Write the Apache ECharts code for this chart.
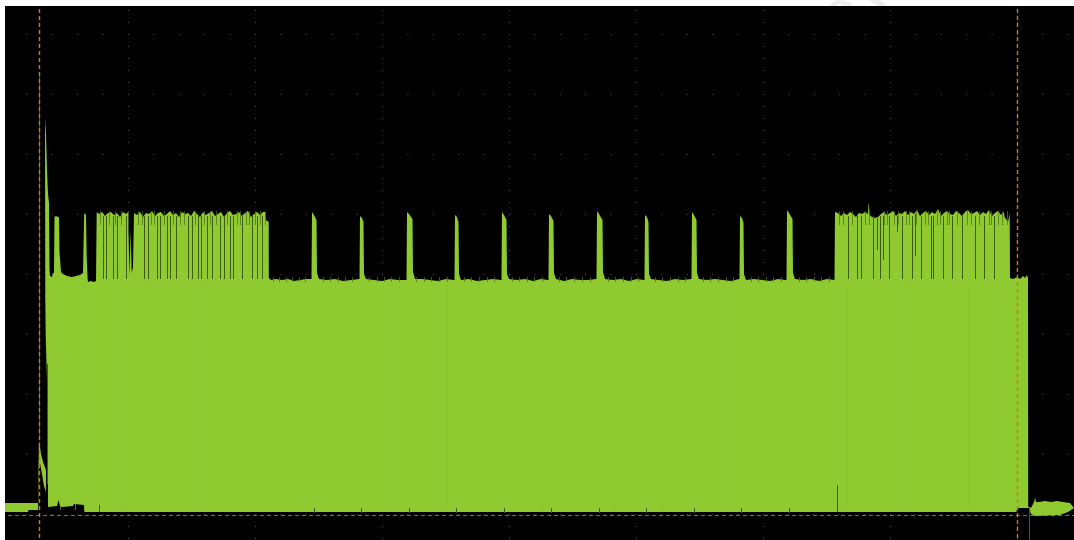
<!DOCTYPE html>
<html>
<head>
<meta charset="utf-8">
<style>html,body{margin:0;padding:0;background:#fff}#chart{width:1074px;height:540px}</style>
<script src="https://cdn.jsdelivr.net/npm/echarts@6/dist/echarts.min.js"></script>
</head>
<body>
<div id="chart"></div>
<script>
// Pre-trigger trace and its decaying tail
const preHighX = [4,15,26,36,37,38,40,42,45];
const preHighY = [11,11,11,11,11,74,60,52,44];
const preLowX = [4,27,27.5,37,38,39,41,43,45];
const preLowY = [2,2,4,4,44,51,40,28,22];

// Upper envelope of the burst trace
const highX = [
  44,45,46,47,48,48.5,49,51,52,53,53.5,55,57,58,58.5,60,62,66,71,75,79,82,83.2,85,85.7,86.7,87,90,93,95,95.7,
  98,101,104,107,110,113,116,119,122,125,127,128.5,129.7,130.7,132,133,
  136,139,142,145,148,151,154,157,160,163,166,169,172,175,178,181,184,187,190,193,196,199,202,205,208,211,214,217,220,223,226,229,232,235,238,241,244,247,250,253,256,259,262,
  264,265,267.7,267.8,270,
  275,281,287,293,299,305,310.5,311,313,315.5,316,318,326,334,342,350,358,
  358.5,359,361,362.5,363,365,373,381,389,397,405,
  405.5,406,408,411.5,412,414,421,429,437,445,453,
  453.5,454,456,457.5,458,460,468,476,484,492,500,
  500.5,501,503,505.5,506,508,516,524,532,540,547,
  547.5,548,550,552.5,553,555,563,571,579,587,595,
  595.5,596,598,601.5,602,604,612,620,628,636,643,
  643.5,644,646,647.5,648,650,658,666,674,682,690,
  690.5,691,693,695.5,696,698,706,714,722,730,738,
  738.5,739,741,742.5,743,745,753,761,769,777,785,
  785.5,786,788,791.5,792,794,802,810,818,826,833.5,
  834,837,840,843,846,849,852,855,858,861,864,867,867.5,868,868.5,871,874,877,
  880,883,886,889,892,895,898,901,904,907,910,913,916,919,922,925,928,931,934,937,940,943,946,949,952,955,958,961,964,967,970,973,976,979,982,985,988,991,994,997,1000,1003,
  1003.5,1005,1007,1008.7,1009,1012,1014,1016,1019,1022,1024,1026,1027,1027.2,
  1028.2,1030,1032,1033.5,1034,1035,1038,1044,1050,1056,1062,1069,1073
];
const highY = [
  396,380,344,320,311,245,238,237,241,241,297,298,297,297,262,242,240,238,237,238,239,241,301,299,256,234,232,233,232,233,302,
  300,302,298,301,302,299,301,297,302,300,302,239,284,241,247,301,
  299,302,297,301,300,303,298,301,302,298,300,303,299,301,297,302,300,301,298,303,300,297,302,299,301,303,298,300,302,297,301,303,299,300,302,298,301,303,297,300,302,299,302,
  302,294,292,236,234,
  235,234,235,233,234,235,235,302,299,294,241,235,234,235,233,234,235,
  235,298,296,292,240,235,234,233,235,234,234,
  234,302,300,295,242,235,235,234,233,235,234,
  234,299,297,292,240,234,235,233,234,235,234,
  234,302,299,294,240,235,234,235,233,235,234,
  234,300,298,293,241,235,233,235,234,234,235,
  235,303,300,294,242,235,234,235,233,235,234,
  234,299,297,292,240,235,234,233,235,234,235,
  235,302,299,294,241,235,234,235,234,233,235,
  235,298,296,291,240,234,235,234,233,235,234,
  234,304,301,295,241,235,234,235,233,235,234,
  302,301,298,301,299,302,300,297,301,300,302,300,310,310,299,297,296,297,
  300,302,299,301,303,298,301,300,303,299,302,300,304,298,301,303,299,302,300,305,298,301,303,300,299,303,301,298,302,304,300,301,303,299,302,300,304,298,301,303,299,302,
  297,295,292,301,236,235,236,237,235,238,236,239,236,7,
  7,6,10,13,17,12,12,13,12,13,12,11,6
];

// Lower envelope of the burst trace
const lowX = [44,44.3,44.8,46,46.8,47,56,57.5,59,61,72,73,83,83.5,1015.5,1016,1028.2,1030,1034,1059,1067,1073];
const lowY = [396,214,174,134,50,7,8,14,8,7,8,10,9,2,2,6,6,0,-2,-1,2,6];

// Drop-outs inside the two bursts
const burstOneGaps = [102,105,112,116,125,143,147,156,159,166,169,175,187,191,197,200,206,211,219,223,229,232,241,251,256,261];
const burstTwoGaps = [847,856,860,872,879,888,901,911,920,930,932,942,951,961,974,983,993];
const gapTop = 298;
const gapBottom = 235;

// Short noise dips along the top of the bursts
const burstFuzz = [99,108,114,120,127,137,141,150,153,163,172,179,183,194,203,209,215,226,236,239,245,248,254,259,264,
  838,842,851,864,868,883,886,893,897,905,908,915,924,927,936,939,946,948,956,966,970,978,988,990,997,1001,1006];
const fuzzTop = 303;
const fuzzBottom = 289;

// Noise along the quiet level between pulses
const quietFuzz = [272,278,285,291,298,304,322,329,337,344,351,368,376,383,390,398,415,423,430,438,446,463,470,478,486,493,
  511,518,526,533,541,558,565,573,581,589,607,614,622,630,637,654,661,669,677,684,702,709,717,725,732,750,757,765,772,780,
  798,805,813,820,828];
const quietTop = 237;
const quietBottom = 232;

// Short dark strokes: x, top, bottom
const strokeX = [46.8,38.5,876,882,896,914,98,836,313,360,408,455,503,550,598,645,693,740,788,1028];
const strokeTop = [150,442,296,298,298,300,9,29,6,6,6,6,6,6,6,6,6,6,6,6];
const strokeBottom = [30,74,264,254,282,258,2,2,1,1,1,1,1,1,1,1,1,1,1,-26];

// Faint vertical shading inside the trace
const shadeX = [59,74,83,121,150,199,266,334,391,445,478,540,612,660,723,790,845,903,968,1003];
const shadeTop = 230;
const shadeBottom = 4;

const cursorX = [38.5,1016.5];
const cursorTop = 540;
const cursorBottom = -60;
const baselineX = [0,1073];
const baselineY = [-1.5,-1.5];

const GREEN = '#8fcb30';
const DARK = '#3d5c14';
const ORANGE = '#cf7a18';

function zip(a, b) { return a.map((v, i) => [v, b[i]]); }

function envelopeSeries(hx, hy, lx, ly) {
  const lower = zip(lx, ly).reverse();
  return {
    type: 'custom', z: 3, silent: true, clip: false,
    data: zip(hx, hy),
    encode: { x: 0, y: 1 },
    renderItem(params, api) {
      if (params.dataIndex !== 0) return null;
      const pts = zip(hx, hy).concat(lower).map(p => api.coord(p));
      return { type: 'polygon', shape: { points: pts }, style: { fill: GREEN } };
    }
  };
}

function strokeSeries(rows, style, z) {
  return {
    type: 'custom', z, silent: true,
    data: rows,
    encode: { x: 0, y: [1, 2] },
    renderItem(params, api) {
      const a = api.coord([api.value(0), api.value(1)]);
      const b = api.coord([api.value(0), api.value(2)]);
      const x = Math.floor(a[0]) + 0.5;
      return { type: 'line', shape: { x1: x, y1: a[1], x2: x, y2: b[1] }, style: Object.assign({ lineWidth: 1 }, style) };
    }
  };
}

const gapRows = burstOneGaps.concat(burstTwoGaps).map(x => [x, gapTop, gapBottom])
  .concat(strokeX.map((x, i) => [x, strokeTop[i], strokeBottom[i]]));
const fuzzRows = burstFuzz.map(x => [x, fuzzTop, fuzzBottom])
  .concat(quietFuzz.map(x => [x, quietTop, quietBottom]));
const shadeRows = shadeX.map(x => [x, shadeTop, shadeBottom]);
const cursorRows = cursorX.map(x => [x, cursorTop, cursorBottom]);

const chart = echarts.init(document.getElementById('chart'), null, { renderer: 'canvas' });
chart.setOption({
  animation: false,
  backgroundColor: '#ffffff',
  grid: { show: true, backgroundColor: '#000000', borderWidth: 0, left: 1, right: 0, top: -26, height: 600, outerBoundsMode: 'none', containLabel: false },
  xAxis: {
    type: 'value', min: 0, max: 1073, interval: 127,
    axisLine: { show: false }, axisTick: { show: false }, axisLabel: { show: false },
    splitLine: { show: true, lineStyle: { color: '#555555', width: 1, type: [1, 11] } }
  },
  yAxis: {
    type: 'value', min: -60, max: 540, interval: 60,
    axisLine: { show: false }, axisTick: { show: false }, axisLabel: { show: false },
    splitLine: { show: true, lineStyle: { color: '#555555', width: 1, type: [1, 24.4] } }
  },
  series: [
    {
      type: 'line', z: 2, silent: true, symbol: 'none',
      data: zip(baselineX, baselineY),
      lineStyle: { color: '#6e6e6e', width: 1, type: [4, 3] }
    },
    envelopeSeries(preHighX, preHighY, preLowX, preLowY),
    envelopeSeries(highX, highY, lowX, lowY),
    strokeSeries(shadeRows, { stroke: '#88c22e', opacity: 0.6 }, 4),
    strokeSeries(fuzzRows, { stroke: '#4f7318', opacity: 0.75 }, 4),
    strokeSeries(gapRows, { stroke: DARK }, 4),
    strokeSeries(cursorRows, { stroke: ORANGE, lineWidth: 1.4, lineDash: [4, 3] }, 5)
  ],
  graphic: [
    { type: 'rect', z: 100, shape: { x: 0, y: 0, width: 5, height: 540 }, style: { fill: '#fff' } },
    { type: 'rect', z: 100, shape: { x: 0, y: 0, width: 1074, height: 6 }, style: { fill: '#fff' } },
    { type: 'polygon', z: 101, shape: { points: [[828,6],[834,1],[842,0],[850,2],[852,6],[843,6],[840,4],[835,6]] }, style: { fill: '#ececec' } },
    { type: 'polygon', z: 101, shape: { points: [[868,0],[880,0],[887,6],[878,6]] }, style: { fill: '#ececec' } }
  ]
});
</script>
</body>
</html>
